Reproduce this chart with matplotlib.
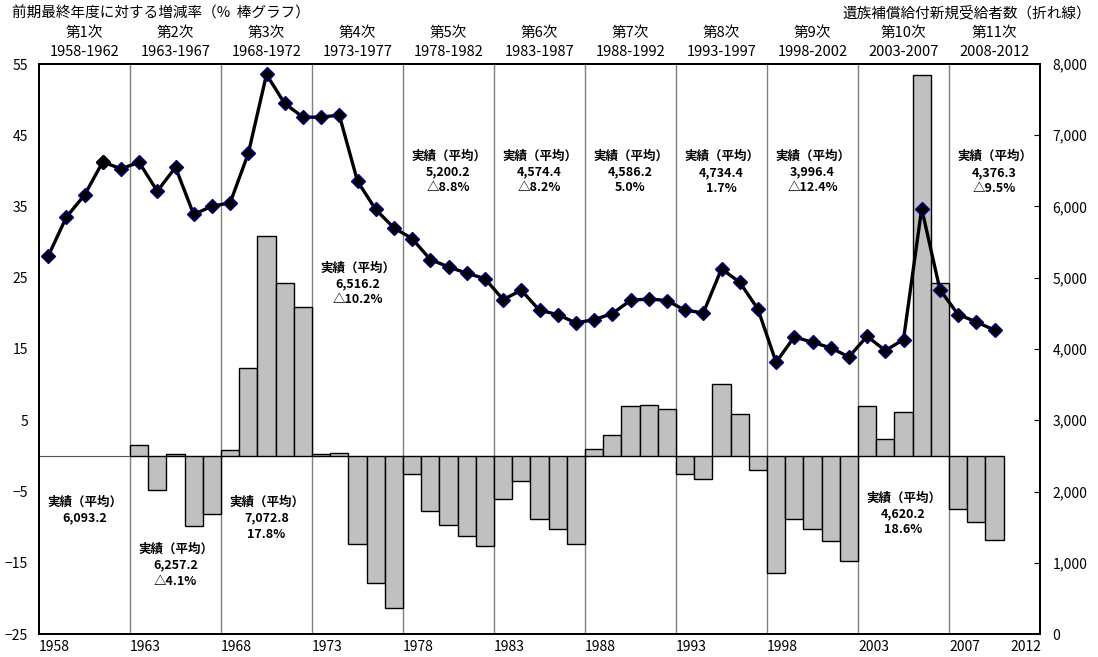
import numpy as np
import matplotlib
matplotlib.use("Agg")
import matplotlib.pyplot as plt
from matplotlib.ticker import FuncFormatter

plt.rcParams['font.family'] = ['Noto Sans CJK JP', 'DejaVu Sans']

# ---- data ----
years = list(range(1958, 2013))

# 前期最終年度に対する増減率 (%), 1963-2010 (1958-1962 has no previous period)
rate = [None, None, None, None, None,
        1.5, -4.8, 0.3, -9.8, -8.1,
        0.8, 12.4, 30.8, 24.2, 20.9,
        0.2, 0.4, -12.3, -17.8, -21.4,
        -2.6, -7.8, -9.7, -11.2, -12.6,
        -6.1, -3.5, -8.9, -10.2, -12.4,
        0.9, 3.0, 7.0, 7.2, 6.6,
        -2.5, -3.2, 10.1, 5.9, -2.0,
        -16.5, -8.8, -10.3, -12.0, -14.7,
        7.0, 2.3, 6.2, 53.4, 24.2,
        -7.4, -9.3, -11.8]

# 遺族補償給付新規受給者数
count = [5300, 5850, 6160, 6625, 6530,
         6620, 6215, 6550, 5888, 6005,
         6050, 6745, 7853, 7446, 7254,
         7254, 7282, 6355, 5958, 5700,
         5550, 5256, 5152, 5064, 4988,
         4694, 4824, 4544, 4483, 4366,
         4412, 4497, 4682, 4703, 4680,
         4544, 4507, 5124, 4937, 4561,
         3814, 4170, 4095, 4016, 3889,
         4179, 3978, 4132, 5971, 4834,
         4484, 4381, 4264]

periods = ["第1次", "第2次", "第3次", "第4次", "第5次", "第6次",
           "第7次", "第8次", "第9次", "第10次", "第11次"]
period_years = ["1958-1962", "1963-1967", "1968-1972", "1973-1977",
                "1978-1982", "1983-1987", "1988-1992", "1993-1997",
                "1998-2002", "2003-2007", "2008-2012"]
avg_count = ["6,093.2", "6,257.2", "7,072.8", "6,516.2", "5,200.2", "4,574.4",
             "4,586.2", "4,734.4", "3,996.4", "4,620.2", "4,376.3"]
avg_rate = [None, "△4.1%", "17.8%", "△10.2%", "△8.8%", "△8.2%",
            "5.0%", "1.7%", "△12.4%", "18.6%", "△9.5%"]
# where each 実績 block sits (left-axis units, first line)
note_y = [-6.5, -13.1, -6.5, 26.4, 42.1, 42.1, 42.1, 42.0, 42.1, -5.9, 42.0]

xlabels = ["1958", "1963", "1968", "1973", "1978", "1983", "1988", "1993",
           "1998", "2003", "2007", "2012"]

# ---- figure ----
W, H = 1098, 657
fig = plt.figure(figsize=(W / 100, H / 100), dpi=100)
L, R, T, B = 39, 1040, 64, 634
ax = fig.add_axes([L / W, 1 - B / H, (R - L) / W, (B - T) / H])
ax2 = ax.twinx()

x = np.arange(len(years))
ax.set_xlim(-0.5, len(years) - 0.5)
ax.set_ylim(-25, 55)
ax2.set_ylim(0, 8000)

# period separators
for b in range(5, 55, 5):
    ax.axvline(b - 0.5, color="#808080", lw=1.0, zorder=1)

# bars
bx = [i for i, v in enumerate(rate) if v is not None]
bv = [v for v in rate if v is not None]
ax.bar(bx, bv, width=1.0, color="#c0c0c0", edgecolor="black", lw=1.0, zorder=2)
ax.hlines(0, -0.5, 4.5, color="#555555", lw=0.8, zorder=2)

# line
ax2.plot(x[:len(count)], count, color="black", lw=2.4, zorder=3,
         marker="D", ms=7, mfc="black", mec="#000080", mew=1.0)
ax2.plot([3], [count[3]], ls="none", marker="D", ms=7, mfc="black",
         mec="black", zorder=4)
ax2.patch.set_visible(False)

# axes styling
for a in (ax, ax2):
    for s in a.spines.values():
        s.set_linewidth(1.4)
        s.set_color("black")

ax.set_yticks(range(-25, 56, 10))
ax.tick_params(axis="y", direction="in", length=0, labelsize=10, pad=8)
ax2.set_yticks(range(0, 8001, 1000))
ax2.yaxis.set_major_formatter(FuncFormatter(lambda v, p: f"{int(v):,}"))
ax2.tick_params(axis="y", direction="in", length=4, labelsize=10, pad=9)

xt = [0.35 + 5 * k for k in range(11)] + [53.7]
ax.set_xticks(xt)
ax.set_xticklabels(xlabels)
ax.tick_params(axis="x", length=0, labelsize=10, pad=4)

# 実績（平均） notes
for k in range(11):
    cx = 5 * k + 2
    lines = ["実績（平均）", avg_count[k]]
    if avg_rate[k]:
        lines.append(avg_rate[k])
    for j, s in enumerate(lines):
        ax.text(cx, note_y[k] - 2.25 * j, s, ha="center", va="center",
                fontsize=9, fontweight="bold", zorder=5)

# headers
def px(xp, yp):
    return xp / W, 1 - yp / H

fig.text(*px(12, 13), "前期最終年度に対する増減率（%  棒グラフ）", ha="left",
         va="center", fontsize=10.5)
fig.text(*px(1091, 13), "遺族補償給付新規受給者数（折れ線）", ha="right",
         va="center", fontsize=10.5)
step = (R - L) / len(years)
for k in range(11):
    cx = L + (5 * k + 2.5) * step
    fig.text(*px(cx, 33), periods[k], ha="center", va="center", fontsize=10.5)
    fig.text(*px(cx, 52), period_years[k], ha="center", va="center", fontsize=10.5)

fig.savefig("out.png", dpi=100)
